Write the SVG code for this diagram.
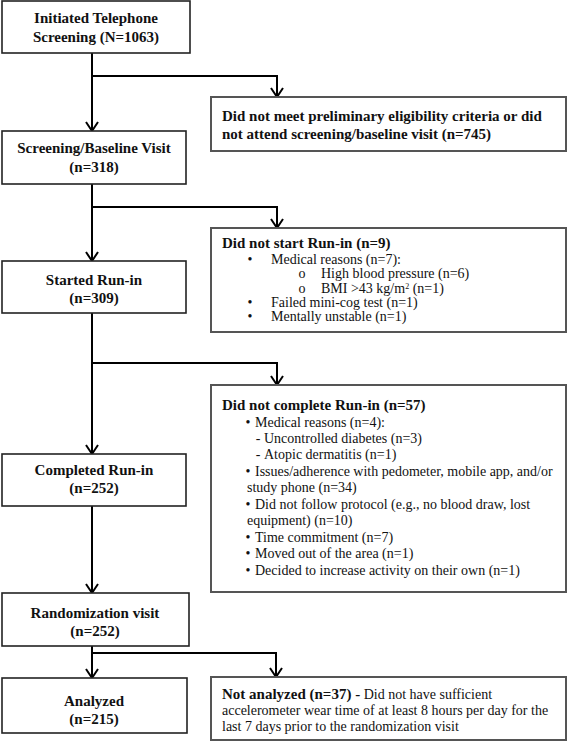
<svg xmlns="http://www.w3.org/2000/svg" width="567" height="748" viewBox="0 0 567 748">
<style>
  .bg { fill: #ffffff; }
  .lbox { fill: #ffffff; stroke: #222; stroke-width: 1.6; }
  .rbox { fill: #ffffff; stroke: #555; stroke-width: 2; }
  .ct { font-family: "Liberation Serif", "Times New Roman", serif; font-size: 15px; font-weight: bold; fill: #111; text-anchor: middle; }
  .tt { font-family: "Liberation Serif", "Times New Roman", serif; font-size: 15px; font-weight: bold; fill: #111; }
  .bt { font-family: "Liberation Serif", "Times New Roman", serif; font-size: 14px; fill: #111; }
  .conn { fill: none; stroke: #000; stroke-width: 2; }
</style>
<defs>
  <marker id="arr" viewBox="-11 -8 13 16" refX="0" refY="0" markerWidth="13" markerHeight="16" markerUnits="userSpaceOnUse" orient="auto">
    <path d="M-9,-6 L0,0 L-9,6" fill="none" stroke="#000" stroke-width="2"/>
  </marker>
</defs>
<rect class="bg" x="0" y="0" width="567" height="748"/>

<g id="connectors">
  <path class="conn" d="M92,53 V131" marker-end="url(#arr)"/>
  <path class="conn" d="M92,76 H277 V97" marker-end="url(#arr)"/>
  <path class="conn" d="M92,184 V261" marker-end="url(#arr)"/>
  <path class="conn" d="M92,207 H277 V228" marker-end="url(#arr)"/>
  <path class="conn" d="M92,313 V454" marker-end="url(#arr)"/>
  <path class="conn" d="M92,363 H277 V385" marker-end="url(#arr)"/>
  <path class="conn" d="M92,506 V593" marker-end="url(#arr)"/>
  <path class="conn" d="M92,646 V678" marker-end="url(#arr)"/>
  <path class="conn" d="M92,653 H276 V677" marker-end="url(#arr)"/>
</g>

<g id="initiated">
  <rect class="lbox" x="2" y="1" width="188" height="52"/>
  <text class="ct" x="96" y="23">Initiated Telephone</text>
  <text class="ct" x="96" y="42">Screening (N=1063)</text>
</g>

<g id="not-eligible">
  <rect class="rbox" x="211" y="97" width="355" height="54"/>
  <text class="tt" x="222" y="121">Did not meet preliminary eligibility criteria or did</text>
  <text class="tt" x="222" y="139">not attend screening/baseline visit (n=745)</text>
</g>

<g id="screening">
  <rect class="lbox" x="2" y="131" width="184" height="53"/>
  <text class="ct" x="94" y="153">Screening/Baseline Visit</text>
  <text class="ct" x="94" y="172">(n=318)</text>
</g>

<g id="not-start">
  <rect class="rbox" x="211" y="228" width="355" height="104"/>
  <text class="tt" x="222" y="248">Did not start Run-in (n=9)</text>
  <text class="bt" x="250" y="264" text-anchor="middle">•</text>
  <text class="bt" x="271" y="264">Medical reasons (n=7):</text>
  <text class="bt" x="302" y="278" text-anchor="middle">o</text>
  <text class="bt" x="321" y="278">High blood pressure (n=6)</text>
  <text class="bt" x="302" y="293" text-anchor="middle">o</text>
  <text class="bt" x="321" y="293">BMI &gt;43 kg/m<tspan font-size="8" dy="-4">2</tspan><tspan dy="4"> (n=1)</tspan></text>
  <text class="bt" x="250" y="307" text-anchor="middle">•</text>
  <text class="bt" x="271" y="307">Failed mini-cog test (n=1)</text>
  <text class="bt" x="250" y="321" text-anchor="middle">•</text>
  <text class="bt" x="271" y="321">Mentally unstable (n=1)</text>
</g>

<g id="started">
  <rect class="lbox" x="2" y="261" width="184" height="52"/>
  <text class="ct" x="94" y="285">Started Run-in</text>
  <text class="ct" x="94" y="303">(n=309)</text>
</g>

<g id="not-complete">
  <rect class="rbox" x="211" y="385" width="355" height="207"/>
  <text class="tt" x="222" y="410">Did not complete Run-in (n=57)</text>
  <text class="bt" x="248" y="427" text-anchor="middle">•</text>
  <text class="bt" x="255" y="427">Medical reasons (n=4):</text>
  <text class="bt" x="258" y="443" text-anchor="middle">-</text>
  <text class="bt" x="264" y="443">Uncontrolled diabetes (n=3)</text>
  <text class="bt" x="258" y="459" text-anchor="middle">-</text>
  <text class="bt" x="264" y="459">Atopic dermatitis (n=1)</text>
  <text class="bt" x="248" y="476" text-anchor="middle">•</text>
  <text class="bt" x="255" y="476">Issues/adherence with pedometer, mobile app, and/or</text>
  <text class="bt" x="247" y="492">study phone (n=34)</text>
  <text class="bt" x="248" y="509" text-anchor="middle">•</text>
  <text class="bt" x="255" y="509">Did not follow protocol (e.g., no blood draw, lost</text>
  <text class="bt" x="247" y="525">equipment) (n=10)</text>
  <text class="bt" x="248" y="542" text-anchor="middle">•</text>
  <text class="bt" x="255" y="542">Time commitment (n=7)</text>
  <text class="bt" x="248" y="558" text-anchor="middle">•</text>
  <text class="bt" x="255" y="558">Moved out of the area (n=1)</text>
  <text class="bt" x="248" y="575" text-anchor="middle">•</text>
  <text class="bt" x="255" y="575">Decided to increase activity on their own (n=1)</text>
</g>

<g id="completed">
  <rect class="lbox" x="2" y="454" width="184" height="52"/>
  <text class="ct" x="94" y="475">Completed Run-in</text>
  <text class="ct" x="94" y="493">(n=252)</text>
</g>

<g id="randomization">
  <rect class="lbox" x="2" y="593" width="187" height="53"/>
  <text class="ct" x="95" y="618">Randomization visit</text>
  <text class="ct" x="95" y="636">(n=252)</text>
</g>

<g id="analyzed">
  <rect class="lbox" x="2" y="678" width="185" height="55"/>
  <text class="ct" x="94" y="706">Analyzed</text>
  <text class="ct" x="94" y="724">(n=215)</text>
</g>

<g id="not-analyzed">
  <rect class="rbox" x="211" y="677" width="355" height="63"/>
  <text class="bt" x="222" y="699"><tspan font-weight="bold" font-size="15">Not analyzed (n=37) -</tspan> Did not have sufficient</text>
  <text class="bt" x="222" y="715">accelerometer wear time of at least 8 hours per day for the</text>
  <text class="bt" x="222" y="731">last 7 days prior to the randomization visit</text>
</g>
</svg>
